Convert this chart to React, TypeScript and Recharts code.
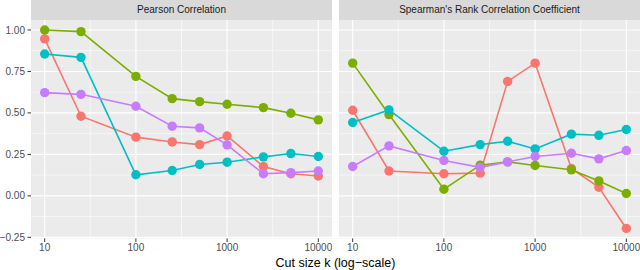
import React from "react";
import {
  CartesianGrid,
  Line,
  LineChart,
  ReferenceLine,
  XAxis,
  YAxis,
} from "recharts";

const ks = [10, 25, 100, 250, 500, 1000, 2500, 5000, 10000];

const pearsonRed = [0.946, 0.48, 0.354, 0.325, 0.309, 0.361, 0.177, 0.133, 0.12];
const pearsonGreen = [1.0, 0.99, 0.72, 0.586, 0.568, 0.552, 0.532, 0.498, 0.458];
const pearsonCyan = [0.855, 0.835, 0.127, 0.153, 0.189, 0.203, 0.235, 0.255, 0.237];
const pearsonPurple = [0.622, 0.612, 0.54, 0.42, 0.41, 0.307, 0.133, 0.14, 0.15];

const spearmanRed = [0.516, 0.15, 0.133, 0.137, 0.69, 0.8, 0.165, 0.052, -0.197];
const spearmanGreen = [0.8, 0.49, 0.04, 0.185, 0.205, 0.183, 0.157, 0.09, 0.014];
const spearmanCyan = [0.442, 0.518, 0.269, 0.309, 0.329, 0.283, 0.372, 0.365, 0.4];
const spearmanPurple = [0.177, 0.301, 0.213, 0.172, 0.205, 0.237, 0.257, 0.223, 0.273];

const xTicks = [10, 100, 1000, 10000];
const xMinor = [31.623, 316.23, 3162.3];
const yTicks = [-0.25, 0, 0.25, 0.5, 0.75, 1.0];
const yMinor = [-0.125, 0.125, 0.375, 0.625, 0.875];

const panelTitles = ["Pearson Correlation", "Spearman's Rank Correlation Coefficient"];
const axisTitle = "Cut size k (log\u2212scale)";

const seriesKeys = ["red", "green", "cyan", "purple"];
const seriesColors = ["#F8766D", "#7CAE00", "#00BFC4", "#C77CFF"];

const X_DOMAIN = [7.0795, 14125];
const Y_DOMAIN = [-0.257, 1.06];
const FONT = "'Liberation Sans', Arial, Helvetica, sans-serif";

function buildRows(cols: number[][]) {
  return ks.map((k, i) => {
    const row: Record<string, number> = { k };
    seriesKeys.forEach((key, j) => {
      row[key] = cols[j][i];
    });
    return row;
  });
}

const pearsonRows = buildRows([pearsonRed, pearsonGreen, pearsonCyan, pearsonPurple]);
const spearmanRows = buildRows([spearmanRed, spearmanGreen, spearmanCyan, spearmanPurple]);

function formatY(v: number) {
  return v.toFixed(2).replace("-", "\u2212");
}

type PanelProps = {
  data: Record<string, number>[];
  width: number;
  showY: boolean;
};

function Panel({ data, width, showY }: PanelProps) {
  const tickStyle = { fontSize: 10, fill: "#4D4D4D", fontFamily: FONT };
  return (
    <LineChart
      width={width}
      height={258}
      data={data}
      margin={{ top: 20, right: 0, left: 0, bottom: 0 }}
    >
      <CartesianGrid
        fill="#EBEBEB"
        stroke="#FFFFFF"
        strokeWidth={0.55}
        horizontalValues={yMinor}
        verticalValues={xMinor}
      />
      {xTicks.map((v) => (
        <ReferenceLine key={"x" + v} x={v} stroke="#FFFFFF" strokeWidth={1.1} />
      ))}
      {yTicks.map((v) => (
        <ReferenceLine key={"y" + v} y={v} stroke="#FFFFFF" strokeWidth={1.1} />
      ))}
      <XAxis
        dataKey="k"
        type="number"
        scale="log"
        domain={X_DOMAIN}
        allowDataOverflow
        ticks={xTicks}
        interval={0}
        tick={tickStyle}
        tickFormatter={(v) => String(v)}
        axisLine={false}
        tickLine={{ stroke: "#333333", strokeWidth: 1 }}
        tickSize={3.5}
        tickMargin={2}
        height={19.5}
      />
      <YAxis
        type="number"
        domain={Y_DOMAIN}
        allowDataOverflow
        ticks={yTicks}
        interval={0}
        hide={!showY}
        width={31}
        tick={tickStyle}
        tickFormatter={formatY}
        axisLine={false}
        tickLine={{ stroke: "#333333", strokeWidth: 1 }}
        tickSize={3.5}
        tickMargin={2.5}
      />
      {seriesKeys.map((key, j) => (
        <Line
          key={"l" + key}
          dataKey={key}
          stroke={seriesColors[j]}
          strokeWidth={1.6}
          dot={false}
          activeDot={false}
          isAnimationActive={false}
        />
      ))}
      {seriesKeys.map((key, j) => (
        <Line
          key={"p" + key}
          dataKey={key}
          stroke="none"
          dot={{ r: 4.7, fill: seriesColors[j], stroke: "none" }}
          activeDot={false}
          isAnimationActive={false}
        />
      ))}
    </LineChart>
  );
}

const stripStyle: React.CSSProperties = {
  position: "absolute",
  top: 0,
  height: 20,
  background: "#D9D9D9",
  color: "#1A1A1A",
  fontSize: 10,
  lineHeight: "20px",
  textAlign: "center",
  fontFamily: FONT,
};

export default function App() {
  return (
    <div
      style={{
        position: "absolute",
        left: 0,
        top: 0,
        width: 640,
        height: 270,
        background: "#FFFFFF",
        overflow: "hidden",
      }}
    >
      <div style={{ position: "absolute", left: 0, top: 0 }}>
        <Panel data={pearsonRows} width={332} showY />
      </div>
      <div style={{ position: "absolute", left: 339, top: 0 }}>
        <Panel data={spearmanRows} width={301} showY={false} />
      </div>
      <div style={{ ...stripStyle, left: 31, width: 301 }}>{panelTitles[0]}</div>
      <div style={{ ...stripStyle, left: 339, width: 301 }}>{panelTitles[1]}</div>
      <div
        style={{
          position: "absolute",
          left: 31,
          width: 609,
          top: 255.5,
          fontSize: 12.5,
          lineHeight: "14px",
          textAlign: "center",
          color: "#000000",
          fontFamily: FONT,
        }}
      >
        {axisTitle}
      </div>
    </div>
  );
}
